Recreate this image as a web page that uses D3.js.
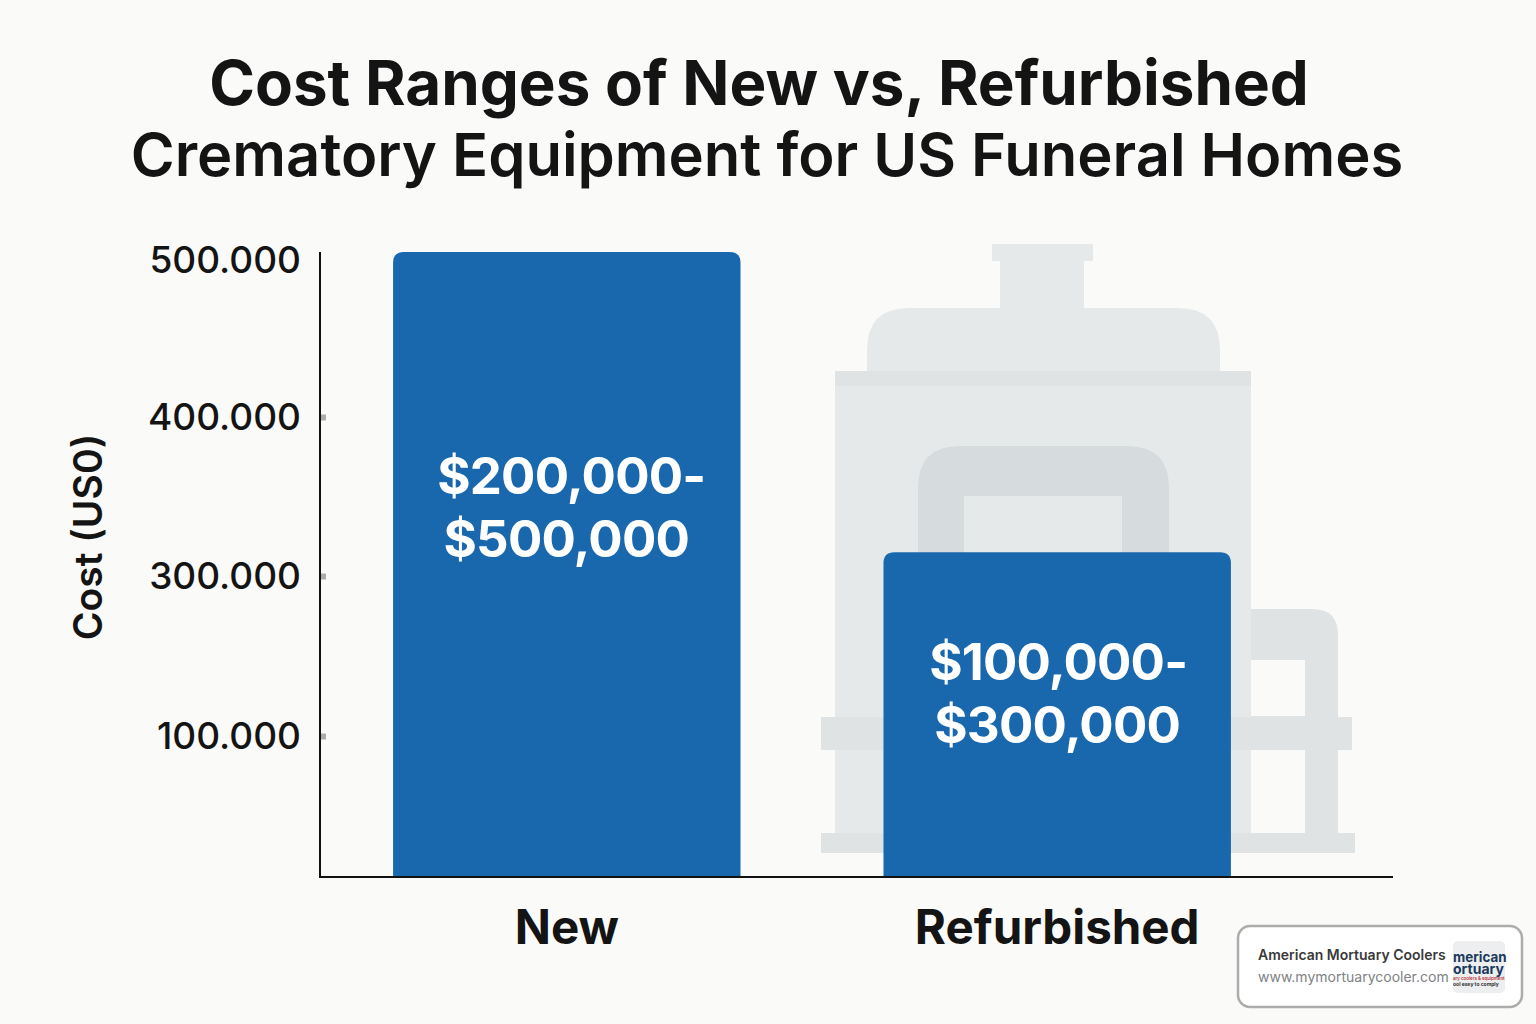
<!DOCTYPE html>
<html><head><meta charset="utf-8">
<script src="https://cdn.jsdelivr.net/npm/d3@7"></script>
<style>html,body{margin:0;padding:0;background:#fafaf8;overflow:hidden}svg{display:block}text{font-family:Inter,"Noto Sans",sans-serif}</style>
</head><body><svg id="c" width="1536" height="1024"></svg>
<script>
const categories = ["New", "Refurbished"];
const barValues = [500000, 315000];
const barLabels = [["$200,000-", "$500,000"], ["$100,000-", "$300,000"]];
const tickValues = [100000, 300000, 400000, 500000];
const tickLabels = ["100.000", "300.000", "400.000", "500.000"];
const titleLines = ["Cost Ranges of New vs, Refurbished", "Crematory Equipment for US Funeral Homes"];
const yTitle = "Cost (US0)";

const svg = d3.select("#c");
svg.append("rect").attr("width",1536).attr("height",1024).attr("fill","#fafaf8");

// Faint equipment illustration behind the bars
const L="#e5e9ea", M="#dfe3e4", D="#d6dbdd", B="#fafaf8";
const art = svg.append("g");
function R(x0,y0,x1,y1,f,r){art.append("rect").attr("x",x0).attr("y",y0).attr("width",x1-x0).attr("height",y1-y0).attr("fill",f).attr("rx",r||0);}
function topRound(x0,y0,x1,y1,r,f){art.append("path").attr("d",`M${x0},${y1}V${y0+r}Q${x0},${y0} ${x0+r},${y0}H${x1-r}Q${x1},${y0} ${x1},${y0+r}V${y1}Z`).attr("fill",f);}
R(992,244,1093,261,L);
R(1000,258,1084,310,L);
topRound(867,308,1220,372,42,L);
R(835,371,1251,853,L);
R(835,371,1251,386,M);
topRound(918,446,1169,520,42,D);
R(918,500,1169,560,D);
R(964,496,1122,560,L);
// side pipe
art.append("path").attr("d","M1251,609H1312Q1338,609 1338,635V660H1251Z").attr("fill",M);
R(1251,660,1305,833,B);
R(1305,650,1338,835,M);
R(1251,716,1305,750,M);
R(821,717,1352,750,M);
R(821,833,1355,853,M);

const y = d3.scaleLinear().domain([0,100000,300000,400000,500000]).range([877,736,576,417,252]);
const x = d3.scaleBand().domain(categories).range([320,1304]).paddingInner(0.2915).paddingOuter(0.149);

// ticks
const yAxis = d3.axisLeft(y).tickValues(tickValues).tickFormat((d,i)=>tickLabels[i]).tickSize(0).tickPadding(19);
const gy = svg.append("g").attr("transform","translate(320,0)").call(yAxis);
gy.select(".domain").remove();
gy.selectAll("text").attr("font-size",37).attr("font-weight",500).attr("fill","#141414").attr("dy","0.33em");
gy.selectAll(".tick").filter(d=>d<500000).append("rect").attr("x",1).attr("y",-3).attr("width",5).attr("height",6).attr("fill","#a9adad");
gy.selectAll(".tick").filter(d=>d===500000).select("text").attr("dy","0.55em");

// bars
svg.append("g").selectAll("path").data(categories).join("path")
 .attr("fill","#1968ad")
 .attr("d",(c,i)=>{const x0=x(c),x1=x0+x.bandwidth(),t=y(barValues[i]),b=y(0),r=11;
   return `M${x0},${b}V${t+r}Q${x0},${t} ${x0+r},${t}H${x1-r}Q${x1},${t} ${x1},${t+r}V${b}Z`;});

// bar labels
const labelTop=[494,680];
const labelShift=[[4.5,-0.5],[1,0]];
categories.forEach((c,i)=>{
 svg.append("g").selectAll("text").data(barLabels[i]).join("text")
  .attr("x",(d,j)=>x(c)+x.bandwidth()/2+labelShift[i][j]).attr("y",(d,j)=>labelTop[i]+j*62.5)
  .attr("text-anchor","middle").attr("font-size",51).attr("letter-spacing",-0.8).attr("font-weight",700).attr("fill","#fff").text(d=>d);
});

// axis lines
const line = d3.line();
svg.append("path").attr("d",line([[320,y(500000)],[320,y(0)],[1393,y(0)]])).attr("fill","none").attr("stroke","#111").attr("stroke-width",2);

// category labels
const gx = svg.append("g").attr("transform",`translate(0,${y(0)})`).call(d3.axisBottom(x).tickSize(0).tickPadding(33.5));
gx.select(".domain").remove();
gx.selectAll("text").attr("font-size",47.5).attr("font-weight",700).attr("fill","#141414");

// y title
svg.append("text").attr("transform","translate(102,537) rotate(-90)").attr("text-anchor","middle").attr("font-size",39).attr("font-weight",600).attr("fill","#141414").text(yTitle);

// title
svg.selectAll(".t").data(titleLines).join("text").attr("class","t")
 .attr("x",(d,i)=>i?767:759).attr("y",(d,i)=>i?176:105).attr("text-anchor","middle")
 .attr("font-size",(d,i)=>i?59.7:61.9).attr("font-weight",(d,i)=>i?600:700).attr("fill","#141414").text(d=>d);

// watermark badge
const bd = svg.append("g");
bd.append("rect").attr("x",1238).attr("y",926).attr("width",284).attr("height",81).attr("rx",12).attr("fill","#fff").attr("stroke","#acacaa").attr("stroke-width",2.5);
bd.append("text").attr("x",1258).attr("y",960).attr("font-size",14).attr("font-weight",600).attr("fill","#3a3a3a").text("American Mortuary Coolers");
bd.append("text").attr("x",1258).attr("y",982).attr("font-size",14).attr("fill","#808285").text("www.mymortuarycooler.com");
bd.append("rect").attr("x",1453).attr("y",941).attr("width",52).attr("height",52).attr("rx",5).attr("fill","#eceeef");
const lg = bd.append("text").attr("font-weight",700).attr("fill","#1b3a5c");
lg.append("tspan").attr("x",1453).attr("y",962).attr("font-size",13.4).text("merican");
lg.append("tspan").attr("x",1453).attr("y",974).attr("font-size",14).text("ortuary");
lg.append("tspan").attr("x",1453).attr("y",980).attr("font-size",4.4).attr("font-weight",600).attr("fill","#b8383f").text("ary coolers & equipment");
lg.append("tspan").attr("x",1453).attr("y",986).attr("font-size",5).attr("fill","#333").text("ool easy to comply");
</script></body></html>
